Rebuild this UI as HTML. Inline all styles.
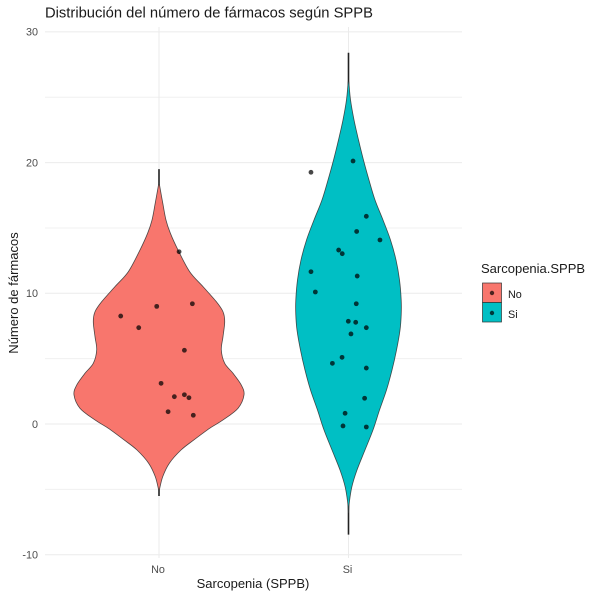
<!DOCTYPE html>
<html lang="es">
<head>
<meta charset="utf-8">
<title>Distribución del número de fármacos según SPPB</title>
<style>
html,body{margin:0;padding:0;background:#fff;width:600px;height:599px;overflow:hidden}
svg{display:block;filter:blur(0.35px)}
text{font-family:"Liberation Sans",sans-serif}
</style>
</head>
<body>
<svg id="chart" width="600" height="599" viewBox="0 0 600 599" xmlns="http://www.w3.org/2000/svg">
<text x="45" y="17.5" font-size="14.75" fill="#1a1a1a">Distribución del número de fármacos según SPPB</text>
<text x="253" y="588" font-size="13" fill="#1a1a1a" text-anchor="middle">Sarcopenia (SPPB)</text>
<text transform="translate(18,293) rotate(-90)" font-size="13" fill="#1a1a1a" text-anchor="middle">Número de fármacos</text>
<g id="grid"></g>
<g id="marks"></g>
<g id="labels"></g>
<g>
<text x="481" y="273" font-size="13" fill="#1a1a1a">Sarcopenia.SPPB</text>
<rect x="482.5" y="283" width="19" height="19.5" fill="#F8766D" stroke="#333" stroke-width="0.7"></rect>
<circle cx="492" cy="293" r="2.2" fill="#000" fill-opacity="0.7"></circle>
<rect x="482.5" y="302.5" width="19" height="19.5" fill="#00BFC4" stroke="#333" stroke-width="0.7"></rect>
<circle cx="492" cy="313" r="2.2" fill="#000" fill-opacity="0.7"></circle>
<text x="508" y="298" font-size="10.8" fill="#1a1a1a">No</text>
<text x="508" y="318" font-size="10.8" fill="#1a1a1a">Si</text>
</g>
</svg>
<script>
const categories = ['No', 'Si'];
const yTickLabels = [-10, 0, 10, 20, 30];
const yMinorTicks = [-5, 5, 15, 25];

const noGridValues = [18.29,16.91,15.61,14.61,13.31,11.65,10.51,9.36,8.59,7.83,6.68,5.66,4.64,3.88,2.98,2.22,1.2,0.31,-0.33,-1.22,-1.99,-3.01,-4.03,-5.05];
const noDensity = [0.006,0.044,0.082,0.133,0.224,0.361,0.518,0.674,0.753,0.773,0.753,0.733,0.773,0.871,0.968,1,0.929,0.753,0.596,0.41,0.259,0.121,0.044,0.004];
const siGridValues = [26.17,24.79,23.26,21.73,20.2,18.67,17.14,15.61,14.08,12.55,11.02,9.49,8.34,7.19,5.66,4.13,2.6,1.07,-0.46,-1.99,-3.52,-4.82,-6.04,-6.81];
const siDensity = [0.004,0.024,0.065,0.118,0.176,0.241,0.312,0.406,0.494,0.559,0.6,0.62,0.62,0.606,0.565,0.512,0.447,0.365,0.288,0.194,0.1,0.039,0.009,0];

const noRange = [-5.51, 19.5];
const siRange = [-8.46, 28.4];

const noPointValues = [13.18,9.2,9.0,8.26,7.37,5.64,3.11,2.09,2.24,2.01,0.94,0.67];
const noPointJitter = [0.106,0.176,-0.012,-0.202,-0.107,0.134,0.011,0.081,0.134,0.158,0.048,0.181];
const siPointValues = [20.12,19.26,15.89,14.73,14.08,13.31,13.03,11.65,11.32,10.1,9.2,7.86,7.78,7.37,6.89,5.1,4.64,4.28,1.97,0.82,-0.15,-0.23];
const siPointJitter = [0.024,-0.198,0.094,0.043,0.166,-0.052,-0.033,-0.198,0.046,-0.175,0.041,-0.001,0.038,0.094,0.013,-0.034,-0.085,0.094,0.085,-0.018,-0.029,0.094];

const NS = 'http://www.w3.org/2000/svg';
const yScale = v => 424 - 13.07 * v;
const xScale = p => 159 + 189.5 * p;
const widthScale = d => 85 * d;

function make(tag, attrs, parent) {
  const el = document.createElementNS(NS, tag);
  for (const k in attrs) el.setAttribute(k, attrs[k]);
  parent.appendChild(el);
  return el;
}

function smoothPath(pts) {
  let d = 'M' + pts[0][0].toFixed(2) + ' ' + pts[0][1].toFixed(2);
  for (let i = 0; i < pts.length - 1; i++) {
    const p0 = pts[Math.max(i - 1, 0)], p1 = pts[i], p2 = pts[i + 1], p3 = pts[Math.min(i + 2, pts.length - 1)];
    const c1x = p1[0] + (p2[0] - p0[0]) / 6, c1y = p1[1] + (p2[1] - p0[1]) / 6;
    const c2x = p2[0] - (p3[0] - p1[0]) / 6, c2y = p2[1] - (p3[1] - p1[1]) / 6;
    d += 'C' + [c1x, c1y, c2x, c2y, p2[0], p2[1]].map(n => n.toFixed(2)).join(' ');
  }
  return d;
}

const grid = document.getElementById('grid');
const marks = document.getElementById('marks');
const labels = document.getElementById('labels');

yMinorTicks.forEach(v => {
  const line = make('line', {x1: 45, x2: 462, y1: yScale(v), y2: yScale(v), stroke: '#f0f0f0', 'stroke-width': 1}, grid);
  
  
});
yTickLabels.forEach(v => {
  const line = make('line', {x1: 45, x2: 462, y1: yScale(v), y2: yScale(v), stroke: '#ebebeb', 'stroke-width': 1}, grid);
  
  
  const t = make('text', {x: 38, y: yScale(v) + 3.8, 'font-size': 10.8, fill: '#4d4d4d', 'text-anchor': 'end'}, labels);
  t.textContent = v;
  
  
});
categories.forEach((c, i) => {
  const line = make('line', {x1: xScale(i), x2: xScale(i), y1: 27, y2: 558, stroke: '#ebebeb', 'stroke-width': 1}, grid);
  
  
  const t = make('text', {x: xScale(i) - 1, y: 573, 'font-size': 10.8, fill: '#4d4d4d', 'text-anchor': 'middle'}, labels);
  t.textContent = c;
  
  
});

function drawViolin(pos, gridValues, density, range, color, pv, pj) {
  const cx = xScale(pos);
  const rangeLine = make('line', {x1: cx, x2: cx, y1: yScale(range[1]), y2: yScale(range[0]), stroke: '#222', 'stroke-width': 1.6}, marks);
  
  
  const left = gridValues.map((v, i) => [cx - widthScale(density[i]), yScale(v)]);
  const right = gridValues.map((v, i) => [cx + widthScale(density[i]), yScale(v)]).reverse();
  const d = smoothPath(left) + 'L' + right[0][0].toFixed(2) + ' ' + right[0][1].toFixed(2) + smoothPath(right).replace(/^M[^C]*/, '') + 'Z';
  const body = make('path', {d: d, fill: color, stroke: '#333', 'stroke-width': 0.8, 'stroke-opacity': 0.85}, marks);
  
  
  pv.forEach((v, i) => {
    const pt = make('circle', {cx: xScale(pos + pj[i]), cy: yScale(v), r: 2.4, fill: '#000', 'fill-opacity': 0.72}, marks);
    
    
  });
}

drawViolin(0, noGridValues, noDensity, noRange, '#F8766D', noPointValues, noPointJitter);
drawViolin(1, siGridValues, siDensity, siRange, '#00BFC4', siPointValues, siPointJitter);
</script>
</body>
</html>
